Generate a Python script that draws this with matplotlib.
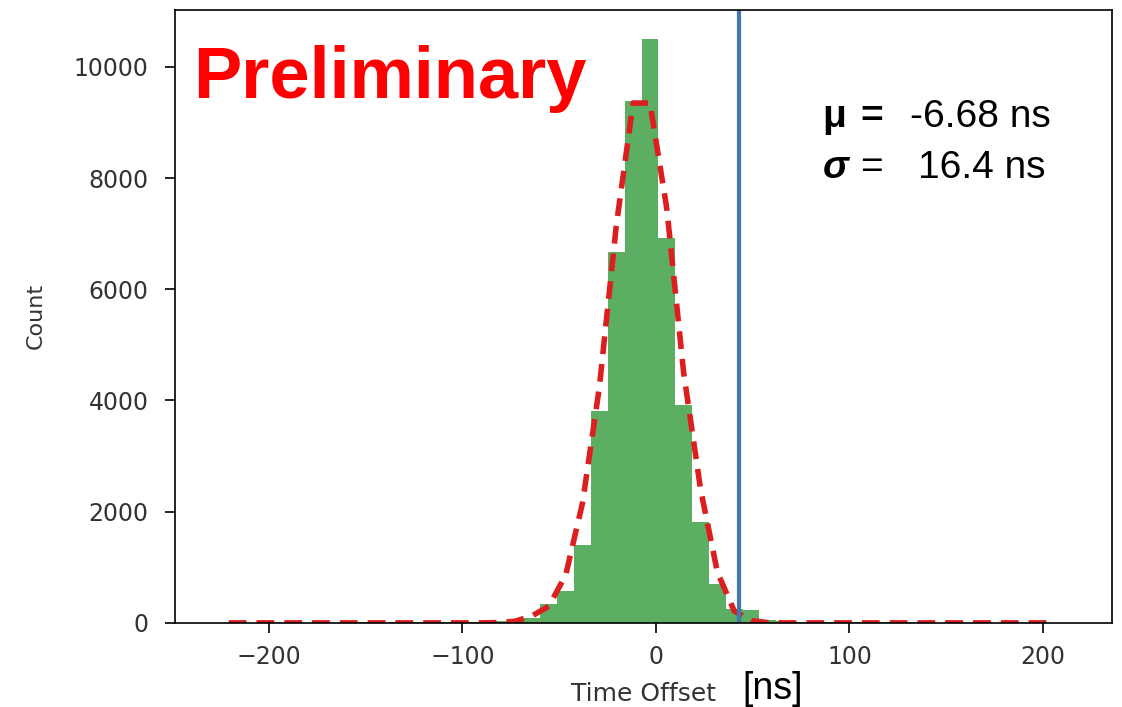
import numpy as np
import matplotlib
matplotlib.use("Agg")
from matplotlib import pyplot as plt

# histogram of time offsets (50 bins), counts
bin_lo, bin_hi, n_bins = -225.2, 210.3, 50
counts = [3, 2, 4, 3, 5, 4, 6, 5, 7, 6, 9, 8, 10, 13, 16, 22,
          30, 55, 95, 340, 575, 1400, 3810, 6670, 9390, 10500, 6920, 3920, 1820, 700,
          250, 230, 45, 25,
          18, 14, 12, 10, 9, 8, 7, 6, 6, 5, 4, 4, 3, 3, 2, 2]
# gaussian fit curve at the bin centres
fit_counts = [0, 0, 0, 0, 0, 0, 0, 0, 0, 0, 0, 0, 0, 0, 0, 0,
              5, 30, 125, 300, 860, 2160, 4245, 7140, 9350, 9350, 7450, 4500, 2410, 915,
              215, 40, 5, 0,
              0, 0, 0, 0, 0, 0, 0, 0, 0, 0, 0, 0, 0, 0, 0, 0]
cut_line = 42.9
mu_text = "-6.68 ns"
sigma_text = "16.4 ns"

edges = np.linspace(bin_lo, bin_hi, n_bins + 1)
centers = 0.5 * (edges[:-1] + edges[1:])

fig = plt.figure(figsize=(11.22, 7.07), dpi=100)
ax = fig.add_axes([0.156, 0.119, 0.835, 0.867])

ax.hist(centers, bins=edges, weights=counts, color="#5cae63")
ax.plot(centers, fit_counts, color="#dc1e1e", lw=4, dashes=(3.2, 1.8))
ax.axvline(cut_line, color="#4279b0", lw=3)

ax.set_xlim(-248.6, 235.7)
ax.set_ylim(0, 11025)
ax.set_xticks([-200, -100, 0, 100, 200])
ax.set_yticks([0, 2000, 4000, 6000, 8000, 10000])
ax.tick_params(labelsize=17, labelcolor="#333333", length=7, width=1.2)
ax.tick_params(axis="x", pad=9)
ax.tick_params(axis="y", pad=12)
for s in ax.spines.values():
    s.set_linewidth(1.2)
ax.set_ylabel("Count", fontsize=16, color="#333333", labelpad=20)
ax.set_xlabel("Time Offset", fontsize=18, color="#333333", labelpad=9)

# overlaid annotations
fig.text(0.172, 0.862, "Preliminary", color="red", fontsize=52, fontweight="bold",
         family="Liberation Sans", ha="left", va="baseline")
fig.text(0.662, 0.012, "[ns]", color="black", fontsize=27,
         family="Liberation Sans", ha="left", va="baseline")
fig.text(0.733, 0.820, "\u03bc", fontsize=28, fontweight="bold",
         family="Liberation Sans", va="baseline")
fig.text(0.767, 0.820, "=", fontsize=28, fontweight="bold",
         family="Liberation Sans", va="baseline")
fig.text(0.811, 0.820, mu_text, fontsize=28, family="Liberation Sans", va="baseline")
fig.text(0.733, 0.748, "\u03c3", fontsize=28, fontweight="bold", fontstyle="italic",
         family="Liberation Sans", va="baseline")
fig.text(0.767, 0.748, "=", fontsize=28, family="Liberation Sans", va="baseline")
fig.text(0.818, 0.748, sigma_text, fontsize=28, family="Liberation Sans", va="baseline")

fig.savefig("out.png", dpi=100)
